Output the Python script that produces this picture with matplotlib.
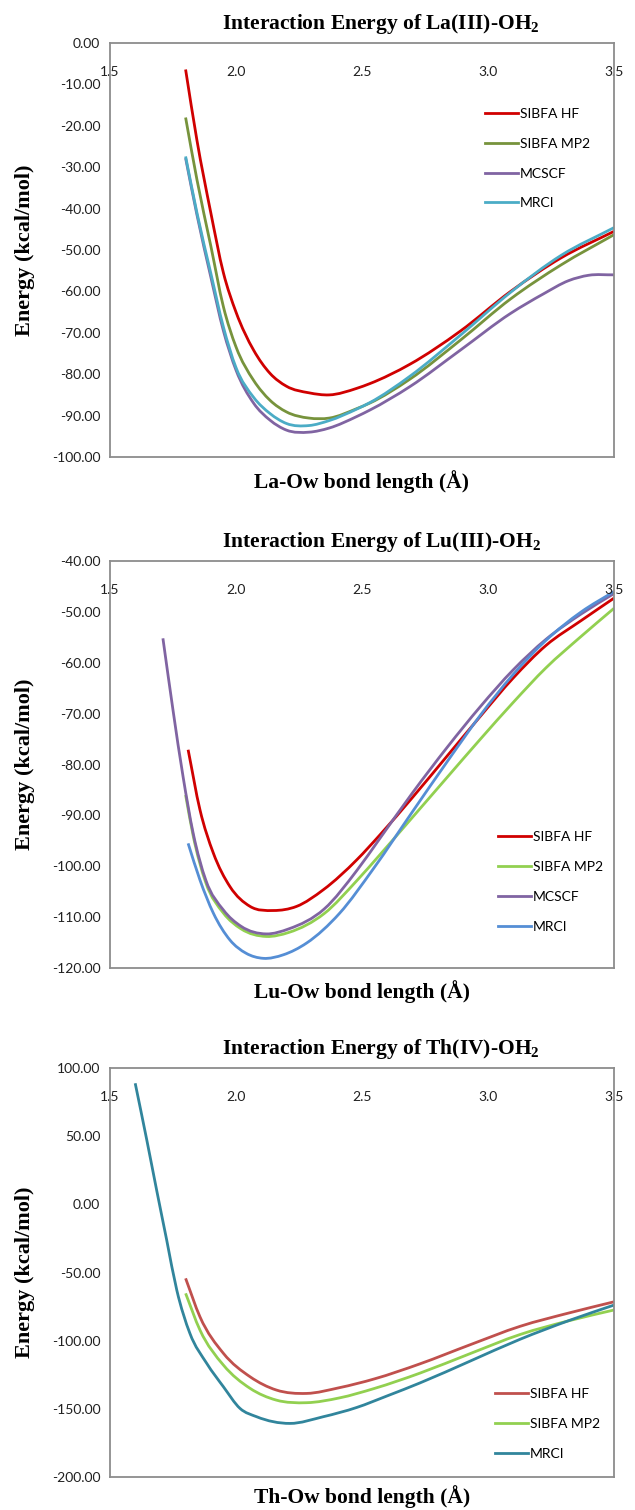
import matplotlib
matplotlib.use("Agg")
import matplotlib.pyplot as plt
from matplotlib.ticker import FormatStrFormatter, FixedLocator
from matplotlib.path import Path
from matplotlib.patches import PathPatch
from matplotlib.lines import Line2D

plt.rcParams['axes.unicode_minus'] = False
plt.rcParams['mathtext.fontset'] = 'custom'
plt.rcParams['mathtext.rm'] = 'Liberation Serif:bold'
plt.rcParams['mathtext.it'] = 'Liberation Serif:bold'
plt.rcParams['mathtext.bf'] = 'Liberation Serif:bold'

# ---------------- data ----------------
x_ticks = [1.5, 2.0, 2.5, 3.0, 3.5]
x_tick_labels = ["1.5", "2.0", "2.5", "3.0", "3.5"]

titles = [r"Interaction Energy of La(III)-OH$_2$",
          r"Interaction Energy of Lu(III)-OH$_2$",
          r"Interaction Energy of Th(IV)-OH$_2$"]
x_labels = ["La-Ow bond length (Å)", "Lu-Ow bond length (Å)", "Th-Ow bond length (Å)"]
y_label = "Energy (kcal/mol)"

# Panel 1: La(III)-OH2
la_x = [1.80, 1.845, 1.90, 1.95, 2.00, 2.07, 2.135, 2.20, 2.29, 2.37, 2.48, 2.53, 2.69, 2.89, 3.09, 3.29, 3.50]
la_hf = [-6.4, -23.5, -41.0, -55.5, -65.0, -74.2, -79.8, -82.9, -84.5, -85.0, -83.4, -82.3, -77.6, -69.6, -60.0, -51.9, -45.5]
la_mp2 = [-18.0, -33.0, -49.0, -63.7, -73.4, -81.5, -86.3, -89.1, -90.6, -90.6, -88.3, -87.0, -81.2, -71.8, -61.8, -53.6, -46.3]
la_mrci = [-27.4, -41.0, -55.6, -68.6, -78.4, -85.6, -89.5, -91.9, -92.4, -91.2, -88.4, -86.9, -80.5, -70.6, -60.2, -51.3, -44.6]
la_mcscf_x = [1.80, 1.845, 1.90, 1.95, 2.00, 2.07, 2.135, 2.20, 2.29, 2.37, 2.48, 2.53, 2.69, 2.89, 3.09, 3.22, 3.32, 3.40, 3.50]
la_mcscf = [-27.8, -41.5, -56.5, -69.5, -79.0, -87.0, -91.1, -93.5, -94.0, -93.0, -90.2, -88.7, -83.0, -74.2, -65.3, -60.6, -57.4, -56.1, -56.0]

# Panel 2: Lu(III)-OH2
lu_hf_x = [1.81, 1.857, 1.91, 1.976, 2.056, 2.148, 2.24, 2.347, 2.48, 2.57, 2.70, 2.84, 2.97, 3.10, 3.23, 3.37, 3.50]
lu_hf = [-77.1, -88.9, -97.4, -104.0, -107.9, -108.7, -107.9, -104.6, -98.7, -93.9, -86.5, -78.2, -70.5, -63.0, -56.6, -51.7, -47.3]
lu_mp2_x = [1.80, 1.83, 1.88, 1.95, 2.02, 2.12, 2.21, 2.35, 2.48, 2.57, 2.70, 2.84, 2.97, 3.10, 3.23, 3.37, 3.50]
lu_mp2 = [-86.0, -94.0, -103.2, -109.2, -112.3, -113.8, -113.0, -109.3, -102.8, -97.8, -90.4, -82.4, -75.0, -67.8, -61.0, -54.8, -49.3]
lu_mcscf_x = [1.71, 1.75, 1.79, 1.83, 1.88, 1.95, 2.02, 2.12, 2.21, 2.35, 2.48, 2.57, 2.70, 2.84, 2.97, 3.10, 3.23, 3.37, 3.50]
lu_mcscf = [-55.2, -69.3, -82.4, -93.5, -102.7, -108.6, -111.8, -113.3, -112.3, -108.4, -100.8, -94.6, -85.6, -76.5, -68.6, -61.4, -55.4, -50.4, -46.4]
lu_mrci_x = [1.81, 1.857, 1.91, 1.976, 2.04, 2.108, 2.188, 2.28, 2.41, 2.545, 2.70, 2.84, 2.97, 3.10, 3.23, 3.37, 3.50]
lu_mrci = [-95.5, -102.7, -109.2, -114.5, -117.1, -118.1, -117.4, -115.1, -109.3, -100.5, -89.3, -79.3, -70.3, -62.3, -55.6, -50.0, -46.0]

# Panel 3: Th(IV)-OH2
th_x = [1.80, 1.857, 1.95, 2.056, 2.16, 2.28, 2.41, 2.55, 2.73, 2.929, 3.127, 3.325, 3.50]
th_hf = [-54.3, -82.5, -109.3, -126.5, -136.2, -138.7, -134.5, -128.0, -117.0, -103.0, -89.5, -79.5, -71.5]
th_mp2 = [-65.3, -92.2, -117.9, -135.0, -143.6, -145.5, -142.0, -135.0, -123.8, -109.5, -95.5, -85.2, -77.5]
th_mrci_x = [1.60, 1.646, 1.685, 1.725, 1.765, 1.817, 1.884, 1.95, 2.016, 2.082, 2.214, 2.346, 2.479, 2.60, 2.73, 2.929, 3.127, 3.325, 3.50]
th_mrci = [88.8, 47.2, 10.5, -26.2, -62.9, -94.6, -116.7, -133.8, -149.7, -155.8, -160.7, -155.8, -149.0, -140.5, -131.0, -115.0, -99.0, -85.0, -73.9]

series_names = ["SIBFA HF", "SIBFA MP2", "MCSCF", "MRCI"]

p1_colors = ["#D00000", "#77933C", "#8064A2", "#4BACC6"]
p2_colors = ["#D00000", "#92D050", "#8064A2", "#558ED5"]
p3_colors = ["#C0504D", "#92D050", "#31859C"]

# ---------------- figure ----------------
W, H = 635, 1510
fig = plt.figure(figsize=(W / 100, H / 100), dpi=100)
lw = 2.0


def rect(top, bottom):
    return [110 / W, 1 - bottom / H, 504 / W, (bottom - top) / H]


def smooth_line(ax, xs, ys, color, label):
    """Draw a smoothed (Excel-style) line through the data points as a
    cubic Bezier path in data coordinates."""
    n = len(xs)
    h = [xs[i + 1] - xs[i] for i in range(n - 1)]
    d = [(ys[i + 1] - ys[i]) / h[i] for i in range(n - 1)]
    m = [d[0]]
    for i in range(1, n - 1):
        m.append((h[i] * d[i - 1] + h[i - 1] * d[i]) / (h[i - 1] + h[i]))
    m.append(d[-1])
    verts = [(xs[0], ys[0])]
    codes = [Path.MOVETO]
    for i in range(n - 1):
        verts.append((xs[i] + h[i] / 3, ys[i] + m[i] * h[i] / 3))
        verts.append((xs[i + 1] - h[i] / 3, ys[i + 1] - m[i + 1] * h[i] / 3))
        verts.append((xs[i + 1], ys[i + 1]))
        codes += [Path.CURVE4] * 3
    ax.add_patch(PathPatch(Path(verts, codes), facecolor="none", edgecolor=color,
                           lw=lw, capstyle="butt", joinstyle="round"))
    return Line2D([], [], color=color, lw=lw, label=label)


tick_font = dict(family="Lato", size=10)
serif_bold = dict(family="Liberation Serif", weight="bold")


def setup(ax, ylim, yticks, title, xlabel, height_px, xlabel_off):
    ax.set_xlim(1.5, 3.5)
    ax.set_ylim(*ylim)
    ax.xaxis.set_major_locator(FixedLocator(x_ticks))
    ax.set_xticklabels(x_tick_labels, fontdict=tick_font)
    ax.xaxis.tick_top()
    ax.tick_params(axis='x', length=0, pad=-25, labelcolor="#202020")
    ax.set_yticks(yticks)
    ax.yaxis.set_major_formatter(FormatStrFormatter('%.2f'))
    for lab in ax.get_yticklabels():
        lab.set_fontfamily("Lato")
        lab.set_fontsize(10)
    ax.tick_params(axis='y', length=0, pad=7, labelcolor="#202020")
    for s in ax.spines.values():
        s.set_color("#8C8C8C")
        s.set_linewidth(1.3)
    ax.text(0.538, 1 + 19 / height_px, title, transform=ax.transAxes,
            ha="center", va="center", fontsize=15.5, **serif_bold)
    ax.text(0.5, -xlabel_off / height_px, xlabel, transform=ax.transAxes,
            ha="center", va="center", fontsize=15.5, **serif_bold)
    ax.text(-85 / 504, 0.5, y_label, transform=ax.transAxes, rotation=90,
            ha="center", va="center", fontsize=16, **serif_bold)


def legend(ax, handles, x, y):
    ax.legend(handles=handles, loc="upper left", bbox_to_anchor=(x, y), frameon=False,
              prop=dict(family="Lato", size=10), handlelength=2.4,
              handletextpad=0.1, labelspacing=1.28, borderpad=0,
              borderaxespad=0)


ax1 = fig.add_axes(rect(43, 457))
h1 = [smooth_line(ax1, la_x, la_hf, p1_colors[0], series_names[0]),
      smooth_line(ax1, la_x, la_mp2, p1_colors[1], series_names[1]),
      smooth_line(ax1, la_mcscf_x, la_mcscf, p1_colors[2], series_names[2]),
      smooth_line(ax1, la_x, la_mrci, p1_colors[3], series_names[3])]
setup(ax1, (-100, 0), list(range(-100, 1, 10)), titles[0], x_labels[0], 414, 25)
legend(ax1, h1, 0.744, 0.843)

ax2 = fig.add_axes(rect(561, 968))
h2 = [smooth_line(ax2, lu_hf_x, lu_hf, p2_colors[0], series_names[0]),
      smooth_line(ax2, lu_mp2_x, lu_mp2, p2_colors[1], series_names[1]),
      smooth_line(ax2, lu_mcscf_x, lu_mcscf, p2_colors[2], series_names[2]),
      smooth_line(ax2, lu_mrci_x, lu_mrci, p2_colors[3], series_names[3])]
setup(ax2, (-120, -40), list(range(-120, -39, 10)), titles[1], x_labels[1], 407, 24)
legend(ax2, h2, 0.770, 0.336)

ax3 = fig.add_axes(rect(1068, 1477))
h3 = [smooth_line(ax3, th_x, th_hf, p3_colors[0], series_names[0]),
      smooth_line(ax3, th_x, th_mp2, p3_colors[1], series_names[1]),
      smooth_line(ax3, th_mrci_x, th_mrci, p3_colors[2], series_names[3])]
setup(ax3, (-200, 100), list(range(-200, 101, 50)), titles[2], x_labels[2], 409, 20)
legend(ax3, h3, 0.764, 0.217)

fig.savefig("out.png", dpi=100)
